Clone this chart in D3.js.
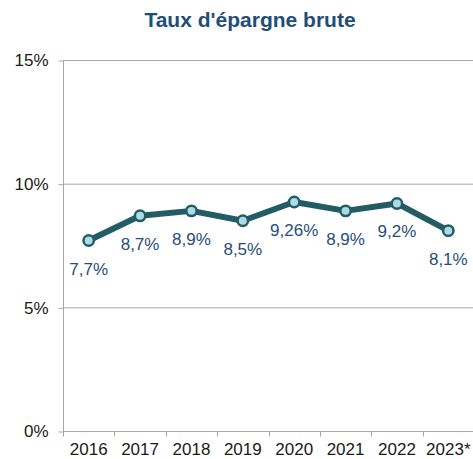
<html>
<head>
<meta charset="utf-8">
<script src="https://cdn.jsdelivr.net/npm/d3@7"></script>
<style>
  body { margin: 0; background: #fff; }
  text { font-family: "Liberation Sans", Arial, sans-serif; }
</style>
</head>
<body>
<script>
// data
var years = ["2016", "2017", "2018", "2019", "2020", "2021", "2022", "2023*"];
var rates = [7.7, 8.7, 8.9, 8.5, 9.26, 8.9, 9.2, 8.1];
var rateLabels = ["7,7%", "8,7%", "8,9%", "8,5%", "9,26%", "8,9%", "9,2%", "8,1%"];
var yTicks = [0, 5, 10, 15];

var width = 473, height = 459;
var margin = {top: 60, right: 0, bottom: 28, left: 63};

var svg = d3.select("body").append("svg")
  .attr("width", width).attr("height", height);

// title
svg.append("text")
  .attr("x", 250).attr("y", 27)
  .attr("text-anchor", "middle")
  .attr("font-size", "21px").attr("font-weight", "bold")
  .attr("fill", "#1f4e79")
  .text("Taux d'épargne brute");

var x = d3.scaleBand().domain(years)
  .range([margin.left, width + 1]);
var y = d3.scaleLinear().domain([0, 15])
  .range([height - margin.bottom, margin.top]);

// gridlines
svg.selectAll(".grid").data(yTicks.filter(function(d){ return d > 0; }))
  .enter().append("line")
  .attr("class", "grid")
  .attr("x1", margin.left).attr("x2", width)
  .attr("y1", function(d){ return y(d) + 0.5; })
  .attr("y2", function(d){ return y(d) + 0.5; })
  .attr("stroke", "#a6a6a6").attr("stroke-width", 1);

// y axis
var yAxis = d3.axisLeft(y).tickValues(yTicks)
  .tickFormat(function(d){ return d + "%"; })
  .tickSize(5).tickPadding(10);
var gy = svg.append("g").attr("transform", "translate(" + (margin.left + 0.5) + ",0.5)").call(yAxis);
gy.select(".domain").attr("stroke", "#a6a6a6").attr("d", "M0," + (y(15)) + "V" + y(0));
gy.selectAll(".tick line").attr("stroke", "#a6a6a6");
gy.selectAll(".tick text").attr("font-size", "17px").attr("fill", "#1a1a1a");

// x axis
var xAxis = d3.axisBottom(x).tickSize(0).tickPadding(11);
var gx = svg.append("g").attr("transform", "translate(0," + (y(0) + 0.5) + ")").call(xAxis);
gx.select(".domain").attr("stroke", "#a6a6a6").attr("d", "M" + margin.left + ",0H" + width);
gx.selectAll(".tick text").attr("font-size", "17px").attr("fill", "#1a1a1a");
// tick marks at band edges
gx.selectAll(".sep").data(years)
  .enter().append("line")
  .attr("class", "sep")
  .attr("x1", function(d){ return Math.round(x(d)) + 0.5; })
  .attr("x2", function(d){ return Math.round(x(d)) + 0.5; })
  .attr("y1", 0).attr("y2", 5)
  .attr("stroke", "#a6a6a6");

// line
var cx = function(d, i){ return x(years[i]) + x.bandwidth() / 2; };
var line = d3.line()
  .x(function(d, i){ return cx(d, i); })
  .y(function(d){ return y(d); });

svg.append("path").datum(rates)
  .attr("d", line)
  .attr("fill", "none")
  .attr("stroke", "#245c66")
  .attr("stroke-width", 6)
  .attr("stroke-linejoin", "round");

svg.selectAll(".pt").data(rates)
  .enter().append("circle")
  .attr("class", "pt")
  .attr("cx", cx)
  .attr("cy", function(d){ return y(d); })
  .attr("r", 5.2)
  .attr("fill", "#acdbe4")
  .attr("stroke", "#245c66")
  .attr("stroke-width", 2.5);

// data labels
svg.selectAll(".lbl").data(rates)
  .enter().append("text")
  .attr("class", "lbl")
  .attr("x", cx)
  .attr("y", function(d){ return y(d) + 34; })
  .attr("text-anchor", "middle")
  .attr("font-size", "17px")
  .attr("fill", "#1f4e79")
  .text(function(d, i){ return rateLabels[i]; });
</script>
</body>
</html>
